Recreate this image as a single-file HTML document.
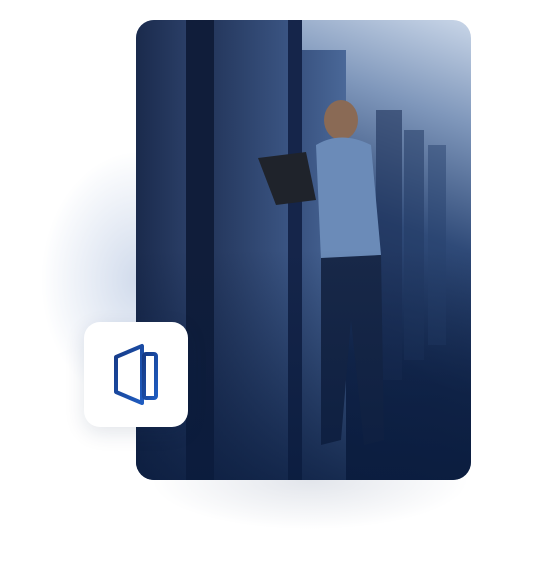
<!DOCTYPE html>
<html><head><style>
html,body{margin:0;padding:0;background:#fff;width:547px;height:580px;overflow:hidden;position:relative}
.glow{position:absolute;left:40px;top:150px;width:200px;height:260px;border-radius:50%;background:radial-gradient(ellipse at center,rgba(120,150,200,.35),rgba(255,255,255,0) 70%)}
.shadow{position:absolute;left:150px;top:430px;width:320px;height:100px;border-radius:50%;background:radial-gradient(ellipse at center,rgba(60,80,120,.15),rgba(255,255,255,0) 70%)}
.card{position:absolute;left:136px;top:20px;width:335px;height:460px;border-radius:18px;overflow:hidden;
background:linear-gradient(200deg,#c9d6e8 0%,#7f97bb 18%,#2f4a78 40%,#14284e 65%,#0c1c3d 100%)}
.rack{position:absolute;top:0;height:460px}
.fade{position:absolute;left:0;top:0;width:335px;height:460px;background:linear-gradient(180deg,rgba(10,25,55,0) 50%,rgba(10,28,62,.8) 100%)}
.icon{position:absolute;left:84px;top:322px;width:104px;height:105px;border-radius:16px;background:#fff;box-shadow:0 6px 20px rgba(20,40,80,.12)}
</style></head><body>
<div class="glow"></div><div class="shadow"></div>
<div class="card">
 <div class="rack" style="left:0;width:50px;background:linear-gradient(90deg,#1a2a4c,#2a3e66)"></div>
 <div class="rack" style="left:50px;width:28px;background:#101d3a"></div>
 <div class="rack" style="left:78px;width:74px;background:linear-gradient(90deg,#25385e,#3a5482)"></div>
 <div class="rack" style="left:152px;width:14px;background:#15254a"></div>
 <div class="rack" style="left:166px;width:44px;top:30px;background:linear-gradient(90deg,#3a5482,#4a6898)"></div>
 <div class="rack" style="left:240px;width:26px;top:90px;height:270px;background:rgba(30,50,90,.6)"></div>
 <div class="rack" style="left:268px;width:20px;top:110px;height:230px;background:rgba(35,58,100,.55)"></div>
 <div class="rack" style="left:292px;width:18px;top:125px;height:200px;background:rgba(40,65,110,.5)"></div>
 <svg style="position:absolute;left:0;top:0" width="335" height="460">
  <ellipse cx="205" cy="100" rx="17" ry="20" fill="#8a6a55"/>
  <path d="M180 125 Q205 110 235 125 L245 235 L185 240 Z" fill="#6b8bb8"/>
  <path d="M185 238 L245 235 L248 420 L228 425 L215 300 L205 420 L185 425 Z" fill="#182848"/>
  <path d="M122 138 L170 132 L180 180 L140 185 Z" fill="#1f232b"/>
 </svg>
 <div class="fade"></div>
</div>
<div class="icon">
 <svg width="104" height="105" viewBox="84 322 104 105">
  <defs><linearGradient id="g" x1="0" y1="0" x2="1" y2="1"><stop offset="0" stop-color="#163a86"/><stop offset="1" stop-color="#1f5cc0"/></linearGradient></defs>
  <path d="M116 357 L142 346 L142 403 L116 392 Z" fill="none" stroke="url(#g)" stroke-width="4" stroke-linejoin="round"/>
  <rect x="144" y="354" width="12" height="44" rx="2" fill="none" stroke="url(#g)" stroke-width="4"/>
 </svg>
</div>
</body></html>
